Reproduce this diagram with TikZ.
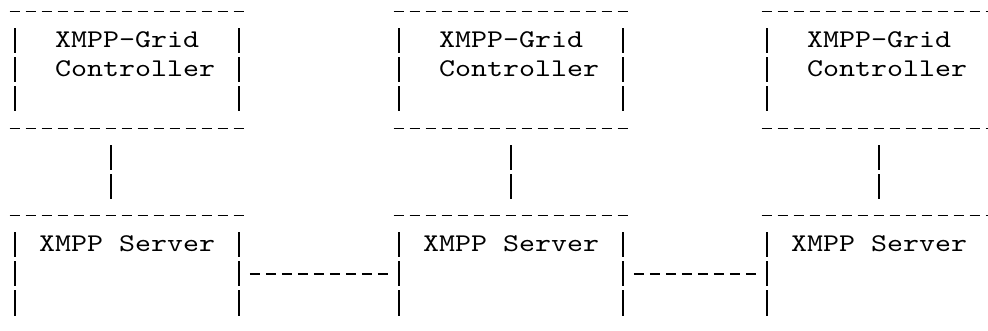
\documentclass[tikz,border=0pt]{standalone}
\usepackage{fontspec}
\newfontfamily\asciifont{lmmono10-regular.otf}[FakeStretch=1.195]
\tikzset{
  gridbox/.style  = {inner sep=0pt, minimum width=234.5pt, minimum height=116.6pt},
  dashrule/.style = {line width=1.6pt, dash pattern=on 10.5pt off 5.5pt},
  piperule/.style = {line width=1.6pt, dash pattern=on 25pt off 4.15pt,
                     shorten <=16.65pt, shorten >=16.65pt},
  boxtext/.style  = {font=\asciifont\fontsize{25.5pt}{29.15pt}\selectfont,
                     inner sep=0pt, anchor=base west, yshift=-6.4pt},
}
\begin{document}
\begin{tikzpicture}[x=16pt,y=-29.15pt]
\path[use as bounding box] (-15pt,11.7pt) rectangle (973pt,-319.3pt);
\clip (-15pt,11.7pt) rectangle (973pt,-319.3pt);
% controllers and servers
\node[gridbox] (ctrlA) at (7,2) {};
\node[gridbox] (ctrlB) at (31,2) {};
\node[gridbox] (ctrlC) at (54,2) {};
\node[gridbox] (srvA) at (7,9) {};
\node[gridbox] (srvB) at (31,9) {};
\node[gridbox] (srvC) at (54,9) {};
\foreach \b in {ctrlA,ctrlB,ctrlC,srvA,srvB,srvC}{
  \draw[dashrule] (\b.north west) -- (\b.north east);
  \draw[piperule] ([xshift=5.25pt]\b.north west) -- ([xshift=5.25pt]\b.south west);
  \draw[piperule] ([xshift=-5.25pt]\b.north east) -- ([xshift=-5.25pt]\b.south east);
}
\foreach \b in {ctrlA,ctrlB,ctrlC}
  \draw[dashrule] (\b.south west) -- (\b.south east);
% labels
\node[boxtext] (ctrlAtop) at (2.5,1) {XMPP-Grid};
\node[boxtext] (ctrlAbot) at (2.5,2) {Controller};
\node[boxtext] (ctrlBtop) at (26.5,1) {XMPP-Grid};
\node[boxtext] (ctrlBbot) at (26.5,2) {Controller};
\node[boxtext] (ctrlCtop) at (49.5,1) {XMPP-Grid};
\node[boxtext] (ctrlCbot) at (49.5,2) {Controller};
\node[boxtext] (srvAname) at (1.5,8) {XMPP Server};
\node[boxtext] (srvBname) at (25.5,8) {XMPP Server};
\node[boxtext] (srvCname) at (48.5,8) {XMPP Server};
% links
\draw[piperule] ([xshift=-16pt]ctrlA.south) -- ([xshift=-16pt]srvA.north);
\draw[piperule] (ctrlB.south) -- (srvB.north);
\draw[piperule] (ctrlC.south) -- (srvC.north);
\draw[dashrule, shorten <=5.5pt, shorten >=5.5pt] (srvA.east) -- (srvB.west);
\draw[dashrule, shorten <=5.5pt, shorten >=5.5pt] (srvB.east) -- (srvC.west);
\end{tikzpicture}
\end{document}
